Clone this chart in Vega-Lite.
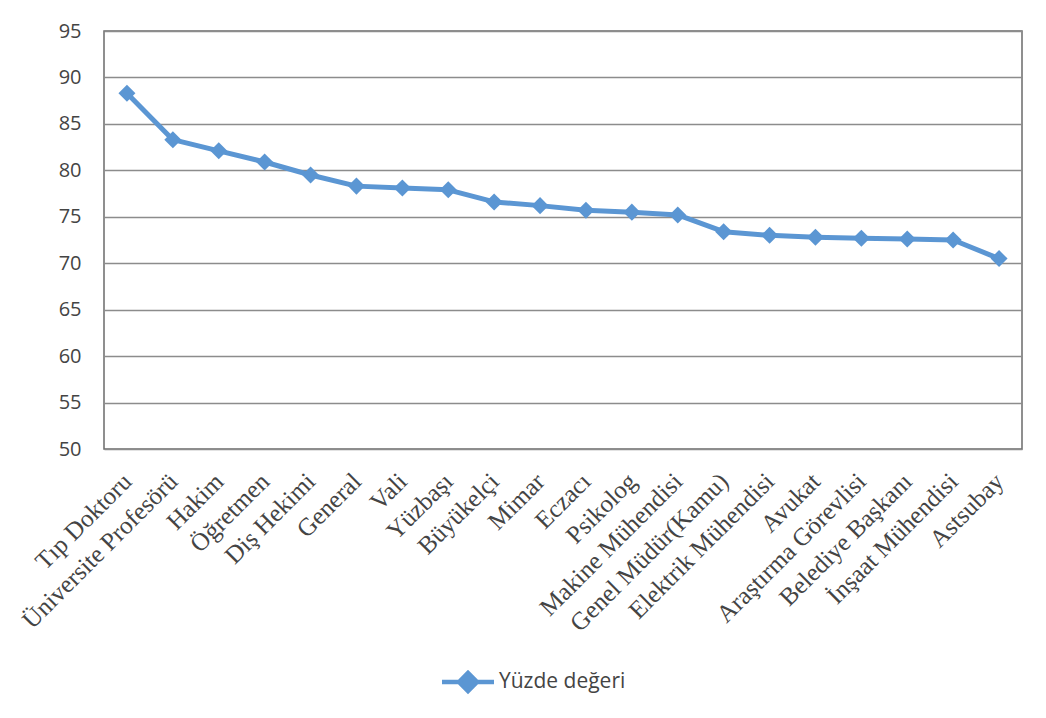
{
  "$schema": "https://vega.github.io/schema/vega-lite/v6.json",
  "autosize": {"type": "none"},
  "width": 918,
  "height": 418,
  "padding": {"left": 104, "top": 31, "right": 24, "bottom": 269},
  "background": "white",
  "config": {
    "view": {"stroke": "#6b6b6b", "strokeWidth": 1.5},
    "font": "Open Sans"
  },
  "data": {
    "values": [
      {"meslek": "Tıp Doktoru", "deger": 88.3},
      {"meslek": "Üniversite Profesörü", "deger": 83.3},
      {"meslek": "Hakim", "deger": 82.1},
      {"meslek": "Öğretmen", "deger": 80.9},
      {"meslek": "Diş Hekimi", "deger": 79.5},
      {"meslek": "General", "deger": 78.3},
      {"meslek": "Vali", "deger": 78.1},
      {"meslek": "Yüzbaşı", "deger": 77.9},
      {"meslek": "Büyükelçi", "deger": 76.6},
      {"meslek": "Mimar", "deger": 76.2},
      {"meslek": "Eczacı", "deger": 75.7},
      {"meslek": "Psikolog", "deger": 75.5},
      {"meslek": "Makine Mühendisi", "deger": 75.2},
      {"meslek": "Genel Müdür(Kamu)", "deger": 73.4},
      {"meslek": "Elektrik Mühendisi", "deger": 73.0},
      {"meslek": "Avukat", "deger": 72.8},
      {"meslek": "Araştırma Görevlisi", "deger": 72.7},
      {"meslek": "Belediye Başkanı", "deger": 72.6},
      {"meslek": "İnşaat Mühendisi", "deger": 72.5},
      {"meslek": "Astsubay", "deger": 70.5}
    ]
  },
  "encoding": {
    "x": {
      "field": "meslek",
      "type": "ordinal",
      "sort": null,
      "scale": {"type": "point", "padding": 0.5},
      "axis": {
        "title": null,
        "labelAngle": -45,
        "labelAlign": "right",
        "labelBaseline": "middle",
        "labelFont": "Liberation Serif",
        "labelFontSize": 25,
        "labelColor": "#444444",
        "labelPadding": 28,
        "labelOverlap": false,
        "labelLimit": 400,
        "ticks": false,
        "domain": false,
        "grid": false
      }
    },
    "y": {
      "field": "deger",
      "type": "quantitative",
      "scale": {"domain": [50, 95], "nice": false, "zero": false},
      "axis": {
        "title": null,
        "values": [50, 55, 60, 65, 70, 75, 80, 85, 90, 95],
        "labelFont": "Open Sans",
        "labelFontSize": 20,
        "labelColor": "#444444",
        "labelPadding": 23,
        "ticks": false,
        "domain": false,
        "grid": true,
        "gridColor": "#8c8c8c",
        "gridWidth": 1.3
      }
    },
    "color": {
      "datum": "Yüzde değeri",
      "type": "nominal",
      "scale": {"range": ["#5b96d3"]},
      "legend": {
        "title": null,
        "orient": "none",
        "legendX": 344,
        "legendY": 631,
        "labelFont": "Open Sans",
        "labelFontSize": 21,
        "labelColor": "#444444",
        "labelOffset": 11,
        "symbolType": "M-1.5,0L-0.52,0M0.52,0L1.5,0M-0.52,0L0,-0.52L0.52,0L0,0.52Z",
        "symbolSize": 1200,
        "encode": {
          "symbols": {
            "update": {
              "fill": {"value": "#5b96d3"},
              "stroke": {"value": "#5b96d3"},
              "strokeWidth": {"value": 4.5},
              "opacity": {"value": 1}
            }
          }
        }
      }
    }
  },
  "layer": [
    {"mark": {"type": "line", "strokeWidth": 5, "strokeJoin": "round"}},
    {"mark": {"type": "point", "shape": "diamond", "filled": true, "size": 290, "opacity": 1}}
  ]
}
